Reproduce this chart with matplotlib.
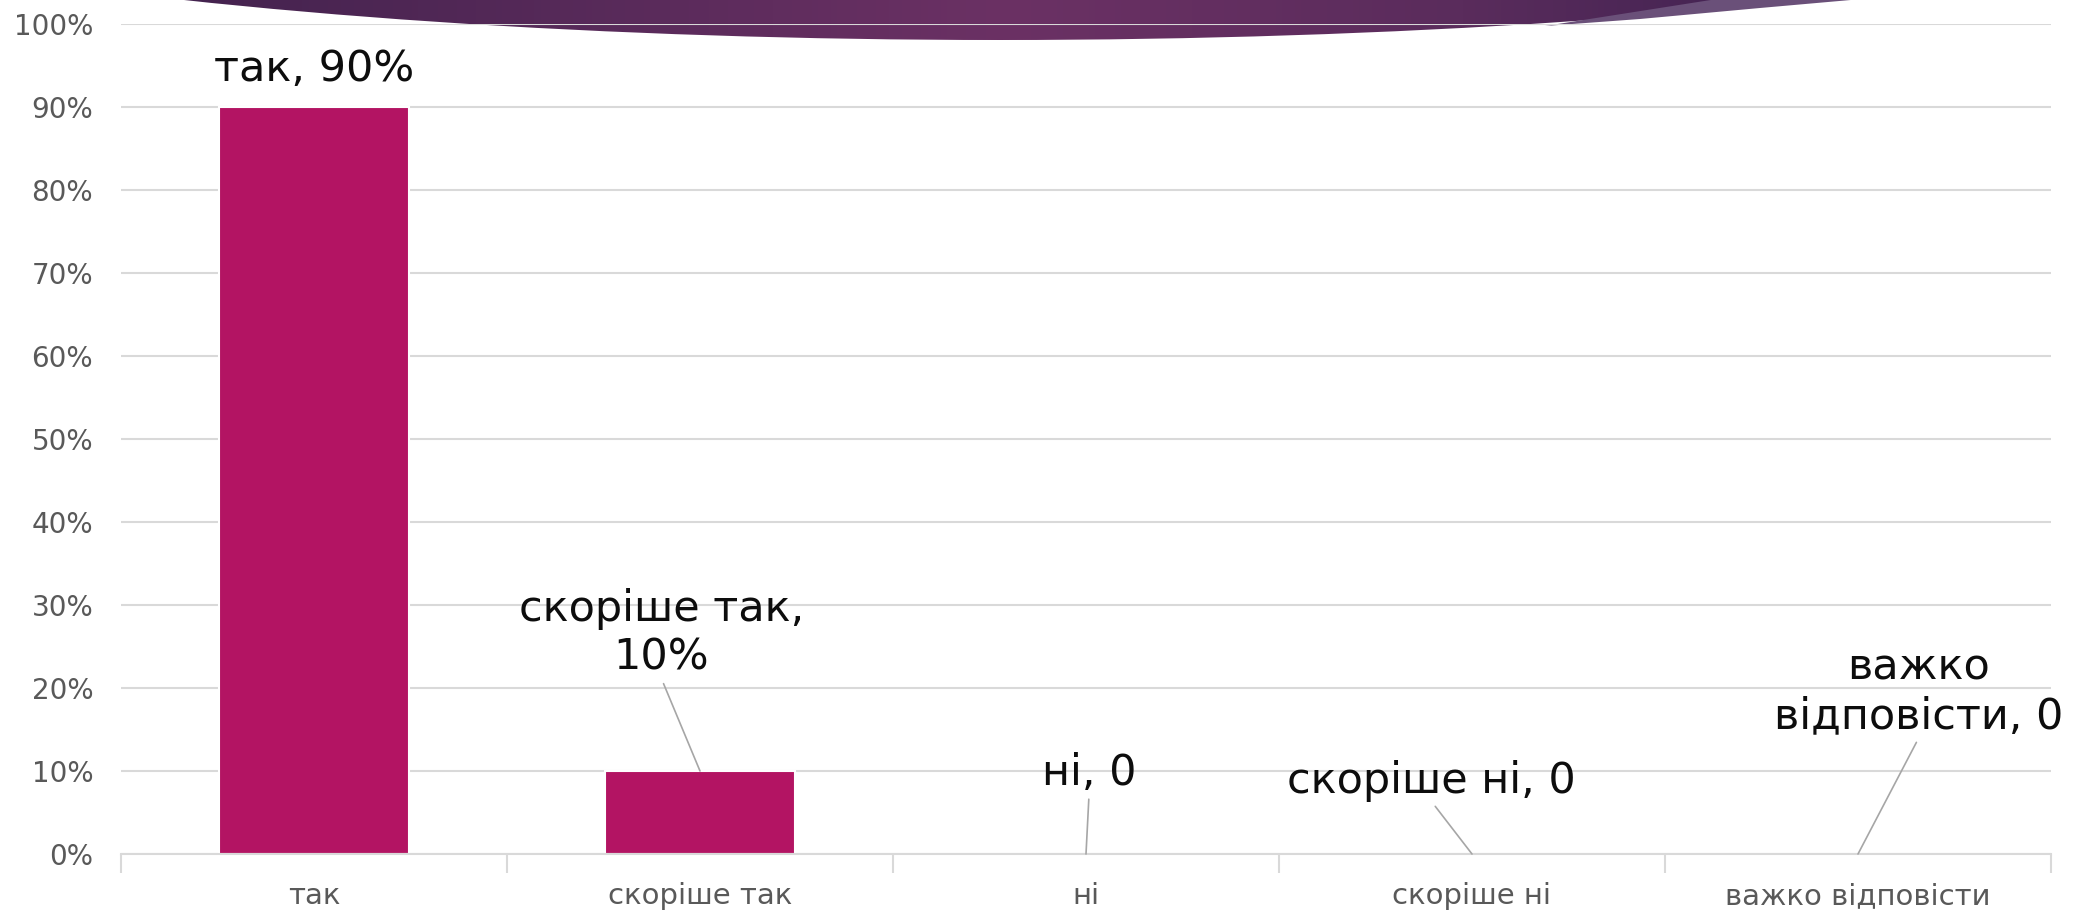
import matplotlib
matplotlib.use("Agg")
import matplotlib.pyplot as plt
import numpy as np
from matplotlib.patches import Ellipse, Polygon
from matplotlib.colors import LinearSegmentedColormap

# ---- data ----
categories = ["так", "скоріше так", "ні", "скоріше ні", "важко відповісти"]
values = [90, 10, 0, 0, 0]
label_texts = ["так, 90%", "скоріше так,\n10%", "ні, 0", "скоріше ні, 0", "важко\nвідповісти, 0"]
yticks = [0, 10, 20, 30, 40, 50, 60, 70, 80, 90, 100]

# label placement (data coords of label centres) and whether a leader line is drawn
label_pos = [(0.0, 94.6), (0.90, 26.6), (2.008, 9.8), (2.896, 8.8), (4.158, 19.5)]
leader = [False, True, True, True, True]

plt.rcParams['font.family'] = ['DejaVu Sans']

W, H = 2087, 915
fig = plt.figure(figsize=(W / 100, H / 100), dpi=100)

# ---- decorative swoosh background (pixel coordinates of the slide) ----
bg = fig.add_axes([0, 0, 1, 1], zorder=0)
bg.set_xlim(0, W)
bg.set_ylim(H, 0)
bg.axis("off")

dark = Ellipse((1000, -200), 2 * 1477, 480, facecolor="none", edgecolor="none")
bg.add_patch(dark)
cmap = LinearSegmentedColormap.from_list(
    "sw", [(0.0, "#44234f"), (0.5, "#6b3164"), (0.78, "#5a2c5c"), (1.0, "#3e2150")])
grad = np.linspace(0, 1, 512).reshape(1, -1)
im = bg.imshow(grad, cmap=cmap, extent=(180, 1830, 50, 0), aspect="auto", zorder=1)
im.set_clip_path(dark)

wedge = Polygon([(1717, -1), (1545, 26), (1640, 19), (1760, 8), (1862, -1)],
                closed=True, facecolor="#6a5079", edgecolor="none", zorder=2)
bg.add_patch(wedge)

# ---- chart ----
ax = fig.add_axes([121 / W, 1 - 854 / H, (2051 - 121) / W, (854 - 24) / H], zorder=1)
ax.set_facecolor("none")

x = np.arange(len(categories))
ax.bar(x, values, width=0.49, color="#b31463", edgecolor="white", linewidth=1.5, zorder=3)

ax.set_xlim(-0.5, len(categories) - 0.5)
ax.set_ylim(0, 100)
ax.set_yticks(yticks)
ax.set_yticklabels([f"{v}%" for v in yticks])
ax.yaxis.grid(True, color="#d9d9d9", linewidth=1.5, zorder=0)
ax.set_axisbelow(True)
ax.tick_params(axis="y", length=0, pad=20, labelsize=20, labelcolor="#595959")

ax.set_xticks(np.arange(len(categories) + 1) - 0.5)
ax.set_xticklabels([])
ax.tick_params(axis="x", which="major", length=14, width=1.5, color="#d9d9d9", direction="out")
ax.set_xticks(x, minor=True)
ax.set_xticklabels(categories, minor=True)
ax.tick_params(axis="x", which="minor", length=0, pad=20, labelsize=21, labelcolor="#595959")

for s in ["top", "right", "left"]:
    ax.spines[s].set_visible(False)
ax.spines["bottom"].set_color("#d9d9d9")
ax.spines["bottom"].set_linewidth(1.5)
ax.spines["bottom"].set_zorder(3.5)

for i, (txt, pos, ld) in enumerate(zip(label_texts, label_pos, leader)):
    if ld:
        ax.annotate(txt, xy=(x[i], values[i]), xytext=pos, textcoords="data",
                    ha="center", va="center", fontsize=31, color="#0d0d0d",
                    annotation_clip=False, zorder=4,
                    arrowprops=dict(arrowstyle="-", color="#a6a6a6", lw=1.2,
                                    relpos=(0.5, 0.0), patchA=None,
                                    shrinkA=4, shrinkB=0))
    else:
        ax.text(pos[0], pos[1], txt, ha="center", va="center", fontsize=31,
                color="#0d0d0d", zorder=4)

fig.savefig("out.png", dpi=100)
